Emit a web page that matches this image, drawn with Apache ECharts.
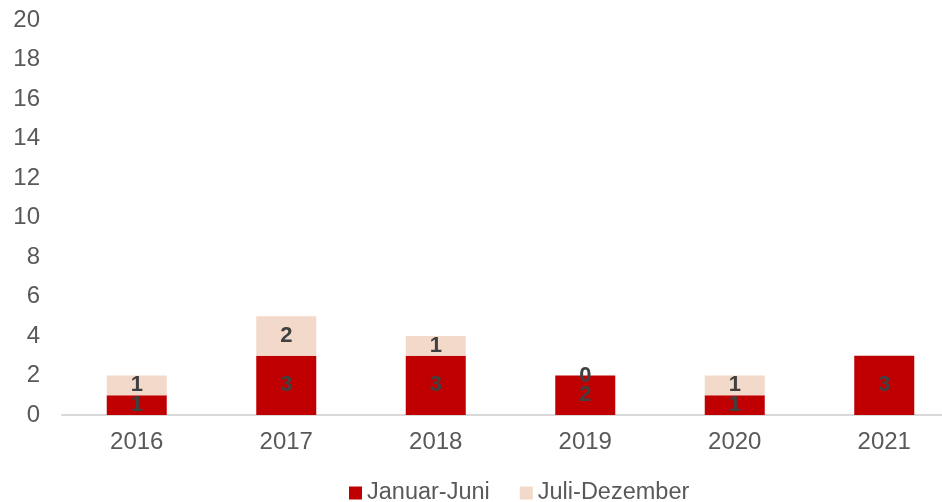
<!DOCTYPE html>
<html>
<head>
<meta charset="utf-8">
<script src="https://cdn.jsdelivr.net/npm/echarts@6/dist/echarts.min.js"></script>
<style>
  html, body { margin: 0; padding: 0; background: #fff; overflow: hidden; }
  #wrap { width: 942px; height: 502px; overflow: hidden; }
  /* plot area runs past the right edge in the reference, so the canvas is wider than the window */
  #chart { width: 959px; height: 502px; }
</style>
</head>
<body>
<div id="wrap"><div id="chart"></div></div>
<script>
// values
const years = ['2016', '2017', '2018', '2019', '2020', '2021'];
const firstHalf = [1, 3, 3, 2, 1, 3];
const secondHalf = [1, 2, 1, 0, 1, null];
const seriesNames = ['Januar-Juni', 'Juli-Dezember'];

const chart = echarts.init(document.getElementById('chart'));

const labelStyle = {
  show: true,
  position: 'inside',
  color: '#404040',
  fontFamily: 'Liberation Sans, Arial, sans-serif',
  fontSize: 22,
  fontWeight: 'bold'
};

let option = {
  animation: false,
  textStyle: { fontFamily: 'Liberation Sans, Arial, sans-serif' },
  grid: {
    left: 62,
    top: 20,
    right: 0,
    bottom: 87,
    containLabel: false
  },
  legend: {
    top: 476,
    left: 344,
    itemWidth: 13,
    itemHeight: 13,
    itemGap: 30,
    icon: 'rect',
    textStyle: { color: '#595959', fontSize: 23.5 },
    data: seriesNames
  },
  xAxis: {
    type: 'category',
    data: years,
    axisLine: { lineStyle: { color: '#d9d9d9', width: 2 } },
    axisTick: { show: false },
    axisLabel: { color: '#595959', fontSize: 24, margin: 15 }
  },
  yAxis: {
    type: 'value',
    min: 0,
    max: 20,
    interval: 2,
    splitLine: { show: false },
    axisLine: { show: false },
    axisTick: { show: false },
    axisLabel: { color: '#595959', fontSize: 24, margin: 22 }
  },
  series: [
    {
      name: seriesNames[0],
      type: 'bar',
      stack: 'total',
      barWidth: 60,
      itemStyle: { color: '#c00000' },
      label: labelStyle,
      data: firstHalf
    },
    {
      name: seriesNames[1],
      type: 'bar',
      stack: 'total',
      barWidth: 60,
      itemStyle: { color: '#f2d9c9' },
      label: labelStyle,
      data: secondHalf
    }
  ]
};

chart.setOption(option);
</script>
</body>
</html>
